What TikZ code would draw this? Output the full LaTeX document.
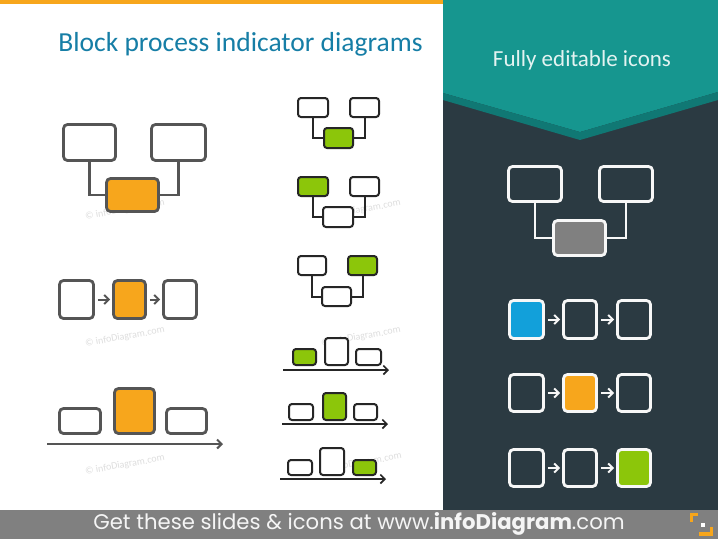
\documentclass[tikz,border=0pt]{standalone}
\usepackage{fontspec}
\setmainfont{Carlito}
\newfontfamily\piefont{Poppins}
\usetikzlibrary{arrows.meta}

% Colores de la lámina
\definecolor{tituloazul}{RGB}{22,126,166}
\definecolor{naranja}{RGB}{247,166,28}
\definecolor{verde}{RGB}{140,198,10}
\definecolor{azul}{RGB}{18,160,218}
\definecolor{turquesa}{RGB}{22,150,143}
\definecolor{turquesaosc}{RGB}{16,120,116}
\definecolor{pizarra}{RGB}{43,58,66}
\definecolor{gris}{RGB}{128,128,128}
\definecolor{trazo}{RGB}{85,85,85}

\tikzset{
  tam/.style 2 args={minimum width=#1pt, minimum height=#2pt},
  cajagris/.style={draw=trazo, line width=2.8pt, rounded corners=4pt, fill=white, inner sep=0pt},
  cajanegra/.style={draw=black!85, line width=2pt, rounded corners=3pt, fill=white, inner sep=0pt},
  cajablanca/.style={draw=white!94!gray, line width=2.8pt, rounded corners=4pt, fill=pizarra, inner sep=0pt},
  flecha/.style={-{Straight Barb[length=4.5pt,width=9pt]}},
  marca/.style={text=black!13, font=\fontsize{10}{12}\selectfont, inner sep=0pt},
}

\begin{document}
\begin{tikzpicture}[x=1pt, y=-1pt]

        % Marco de la lámina (718 x 539 px)
        \useasboundingbox (0,0) rectangle (718,539);

        % Fondo blanco y franja naranja superior
        \fill[white] (0,0) rectangle (718,539);
        \fill[naranja] (0,0) rectangle (443,4);

        % Panel derecho oscuro con el banderín turquesa
        \fill[pizarra] (443,0) rectangle (718,510);
        \fill[turquesa] (443,0) -- (718,0) -- (718,92) -- (580,132) -- (443,93) -- cycle;
        \fill[turquesaosc] (443,93) -- (580,132) -- (718,92) -- (718,100) -- (580,140) -- (443,100) -- cycle;

        % Barra gris inferior
        \fill[gris] (0,510) rectangle (718,539);

        % Títulos
        \node[text=tituloazul, font=\fontsize{27.5}{30}\selectfont] (titulo) at (240.5,44) {Block process indicator diagrams};
        \node[text=white!88!turquesa, font=\fontsize{23}{26}\selectfont] (editables) at (582,60) {Fully editable icons};

        % Marcas de agua (por detrás de las cajas)
        \node[marca, rotate=10] (m1) at (125,210) {© infoDiagram.com};
        \node[marca, rotate=10] (m2) at (125,337) {© infoDiagram.com};
        \node[marca, rotate=10] (m3) at (125,465) {© infoDiagram.com};
        \node[marca, rotate=10] (m4) at (361,210) {© infoDiagram.com};
        \node[marca, rotate=10] (m5) at (361,337) {© infoDiagram.com};
        \node[marca, rotate=10] (m6) at (362,463) {© infoDiagram.com};

        % Columna izquierda: árbol grande con la caja naranja
        \node[cajagris, tam={52}{36}] (izq) at (89.5,142.5) {};
        \node[cajagris, tam={54}{36}] (der) at (178.5,142.5) {};
        \node[cajagris, tam={52}{33}, fill=naranja] (centro) at (132.5,195) {};
        \draw[trazo, line width=2.8pt] (izq.south) |- (centro.west);
        \draw[trazo, line width=2.8pt] (der.south) |- (centro.east);

        % Columna izquierda: cadena de tres pasos
        \node[cajagris, tam={34}{38}] (paso1) at (76.5,299.5) {};
        \node[cajagris, tam={32}{38}, fill=naranja] (paso2) at (129.5,299.5) {};
        \node[cajagris, tam={33}{38}] (paso3) at (180,299.5) {};
        \draw[flecha, trazo, line width=2pt, shorten <=3pt, shorten >=2pt] (paso1) -- (paso2);
        \draw[flecha, trazo, line width=2pt, shorten <=3pt, shorten >=2pt] (paso2) -- (paso3);

        % Columna izquierda: barras sobre el eje
        \node[cajagris, tam={41}{25}] (bar1) at (80,421) {};
        \node[cajagris, tam={40}{45}, fill=naranja] (bar2) at (134.5,411) {};
        \node[cajagris, tam={40}{25}] (bar3) at (186.5,421) {};
        \coordinate (eje1a) at (47,444);
        \coordinate (eje1b) at (223,444);
        \draw[flecha, trazo, line width=2pt] (eje1a) -- (eje1b);

        % Columna central: árbol con la caja de abajo en verde
        \node[cajanegra, tam={30}{19}] (aL) at (313,107.5) {};
        \node[cajanegra, tam={29}{19}] (aR) at (364.5,107.5) {};
        \node[cajanegra, tam={29}{20}, fill=verde] (aC) at (338.5,138) {};
        \draw[black!85, line width=2pt] (aL.south) |- (aC.west);
        \draw[black!85, line width=2pt] (aR.south) |- (aC.east);

        % Columna central: árbol con la caja izquierda en verde
        \node[cajanegra, tam={30}{19}, fill=verde] (bL) at (313,186.5) {};
        \node[cajanegra, tam={29}{19}] (bR) at (364.5,186.5) {};
        \node[cajanegra, tam={30}{20}] (bC) at (338,217) {};
        \draw[black!85, line width=2pt] (bL.south) |- (bC.west);
        \draw[black!85, line width=2pt] (bR.south) |- (bC.east);

        % Columna central: árbol con la caja derecha en verde
        \node[cajanegra, tam={28}{19}] (cL) at (312,265.5) {};
        \node[cajanegra, tam={29}{19}, fill=verde] (cR) at (362.5,265.5) {};
        \node[cajanegra, tam={29}{19}] (cC) at (336.5,296.5) {};
        \draw[black!85, line width=2pt] (cL.south) |- (cC.west);
        \draw[black!85, line width=2pt] (cR.south) |- (cC.east);

        % Columna central: barras, verde a la izquierda
        \node[cajanegra, tam={23}{16}, fill=verde] (d1) at (304.5,357) {};
        \node[cajanegra, tam={23}{27}] (d2) at (336.5,351.5) {};
        \node[cajanegra, tam={25}{16}] (d3) at (368.5,357) {};
        \coordinate (eje2a) at (283,370);
        \coordinate (eje2b) at (389,370);
        \draw[flecha, black!85, line width=1.6pt] (eje2a) -- (eje2b);

        % Columna central: barras, verde en el centro
        \node[cajanegra, tam={24}{16}] (e1) at (301,412) {};
        \node[cajanegra, tam={23}{27}, fill=verde] (e2) at (334.5,406.5) {};
        \node[cajanegra, tam={23}{16}] (e3) at (365.5,412) {};
        \coordinate (eje3a) at (282,424);
        \coordinate (eje3b) at (388,424);
        \draw[flecha, black!85, line width=1.6pt] (eje3a) -- (eje3b);

        % Columna central: barras, verde a la derecha
        \node[cajanegra, tam={24}{15}] (f1) at (300,467.5) {};
        \node[cajanegra, tam={24}{27}] (f2) at (332,461.5) {};
        \node[cajanegra, tam={23}{15}, fill=verde] (f3) at (364.5,467.5) {};
        \coordinate (eje4a) at (280,479);
        \coordinate (eje4b) at (386,479);
        \draw[flecha, black!85, line width=1.6pt] (eje4a) -- (eje4b);

        % Panel oscuro: árbol con la caja gris
        \node[cajablanca, tam={53}{35}] (rL) at (535,184) {};
        \node[cajablanca, tam={53}{35}] (rR) at (626,184) {};
        \node[cajablanca, tam={52}{35}, fill=gris] (rC) at (579.5,238) {};
        \draw[white!94!gray, line width=2.8pt] (rL.south) |- (rC.west);
        \draw[white!94!gray, line width=2.8pt] (rR.south) |- (rC.east);

        % Panel oscuro: tres cadenas (azul, naranja, verde)
        \node[cajablanca, tam={34}{38}, fill=azul] (s1a) at (526.5,319.5) {};
        \node[cajablanca, tam={33}{38}] (s1b) at (580,319.5) {};
        \node[cajablanca, tam={33}{38}] (s1c) at (634,319.5) {};
        \node[cajablanca, tam={34}{37}] (s2a) at (526.5,393) {};
        \node[cajablanca, tam={33}{37}, fill=naranja] (s2b) at (580,393) {};
        \node[cajablanca, tam={33}{37}] (s2c) at (634,393) {};
        \node[cajablanca, tam={34}{37}] (s3a) at (526.5,468) {};
        \node[cajablanca, tam={33}{37}] (s3b) at (580,468) {};
        \node[cajablanca, tam={33}{37}, fill=verde] (s3c) at (634,468) {};
        \foreach \f in {1,2,3} {
          \draw[flecha, white!94!gray, line width=2pt, shorten <=3pt, shorten >=2pt] (s\f a) -- (s\f b);
          \draw[flecha, white!94!gray, line width=2pt, shorten <=3pt, shorten >=2pt] (s\f b) -- (s\f c);
        }

        % Texto de la barra inferior y logotipo
        \node[text=white!92!gris, font=\piefont\fontsize{21.2}{24}\selectfont] (pie) at (359,524)
             {Get these slides \& icons at www.\textbf{infoDiagram}.com};
        \draw[naranja, line width=3.5pt] (691.5,522) -- (691.5,514.5) -- (698,514.5);
        \draw[naranja, line width=3.5pt] (699,534) -- (711.5,534) -- (711.5,527);
        \fill[white] (701,523) rectangle (705,527);

    \end{tikzpicture}
\end{document}
